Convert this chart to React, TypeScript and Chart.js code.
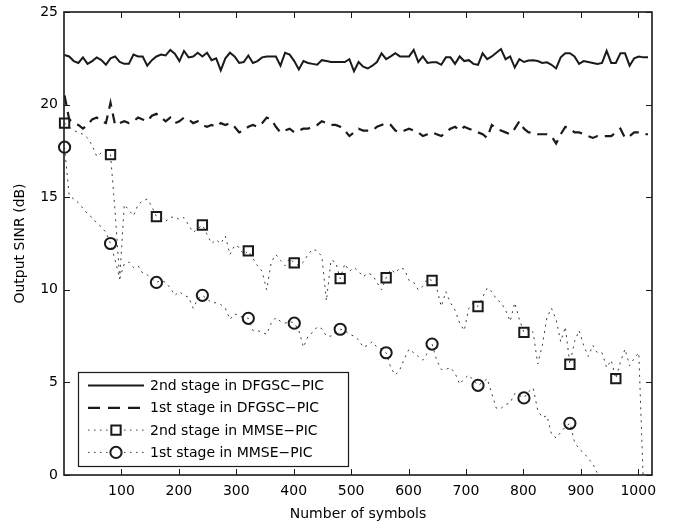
import React, { useEffect, useRef } from 'react';
import { Chart, registerables } from 'chart.js';

Chart.register(...registerables);

const symbols = [1,9,17,25,33,41,49,57,65,73,81,89,97,105,113,121,129,137,145,153,161,169,177,185,193,201,209,217,225,233,241,249,257,265,273,281,289,297,305,313,321,329,337,345,353,361,369,377,385,393,401,409,417,425,433,441,449,457,465,473,481,489,497,505,513,521,529,537,545,553,561,569,577,585,593,601,609,617,625,633,641,649,657,665,673,681,689,697,705,713,721,729,737,745,753,761,769,777,785,793,801,809,817,825,833,841,849,857,865,873,881,889,897,905,913,921,929,937,945,953,961,969,977,985,993,1001,1009,1017];

const dfgsc2nd = [
  22.68, 22.6, 22.35, 22.25, 22.55, 22.2, 22.35, 22.55, 22.4, 22.15,
  22.5, 22.6, 22.3, 22.2, 22.2, 22.7, 22.6, 22.6, 22.1, 22.4,
  22.6, 22.7, 22.65, 22.95, 22.75, 22.35, 22.9, 22.55, 22.6, 22.8,
  22.6, 22.8, 22.4, 22.5, 21.85, 22.5, 22.8, 22.6, 22.25, 22.3,
  22.65, 22.25, 22.35, 22.55, 22.6, 22.6, 22.6, 22.1, 22.8, 22.7,
  22.35, 21.9, 22.35, 22.25, 22.2, 22.15, 22.4, 22.35, 22.3, 22.3,
  22.3, 22.3, 22.45, 21.8, 22.3, 22.05, 21.95, 22.1, 22.3, 22.77,
  22.45, 22.6, 22.77, 22.6, 22.6, 22.6, 22.95, 22.3, 22.6, 22.25,
  22.28, 22.28, 22.15, 22.55, 22.55, 22.2, 22.6, 22.35, 22.4, 22.2,
  22.15, 22.77, 22.45, 22.6, 22.8, 23.0, 22.45, 22.6, 22.0, 22.45,
  22.3, 22.38, 22.4, 22.35, 22.25, 22.28, 22.15, 21.95, 22.55, 22.77,
  22.77, 22.6, 22.2, 22.35, 22.3, 22.25, 22.2, 22.25, 22.9, 22.25,
  22.25, 22.77, 22.77, 22.1, 22.5, 22.6, 22.55, 22.55
];

const dfgsc1st = [
  20.5, 19.2, 19.0, 18.9, 18.7, 18.9, 19.2, 19.3, 19.1, 19.0,
  20.1, 18.9, 19.0, 19.1, 19.0, 19.1, 19.3, 19.2, 19.1, 19.4,
  19.5, 19.3, 19.1, 19.3, 19.0, 19.1, 19.3, 19.2, 19.0, 19.1,
  18.9, 18.8, 18.9, 18.8, 19.0, 18.9, 19.0, 18.8, 18.5, 18.6,
  18.8, 18.9, 18.8, 19.0, 19.3, 19.2, 18.8, 18.5, 18.6, 18.7,
  18.5, 18.6, 18.7, 18.7, 18.8, 18.9, 19.1, 19.0, 18.9, 18.9,
  18.8, 18.6, 18.3, 18.5, 18.7, 18.6, 18.6, 18.6, 18.8, 18.9,
  19.0, 18.9, 18.6, 18.5, 18.6, 18.7, 18.6, 18.5, 18.3, 18.4,
  18.5, 18.4, 18.3, 18.5, 18.7, 18.8, 18.6, 18.8, 18.7, 18.6,
  18.5, 18.4, 18.2, 18.9, 18.7, 18.6, 18.5, 18.4, 18.7, 19.1,
  18.7, 18.5, 18.5, 18.4, 18.4, 18.4, 18.3, 17.9, 18.4, 18.8,
  18.7, 18.5, 18.5, 18.4, 18.3, 18.2, 18.3, 18.3, 18.3, 18.3,
  18.5, 18.7, 18.2, 18.3, 18.5, 18.5, 18.4, 18.4
];

const mmse2nd = [
  19.0, 18.8, 18.6, 18.5, 18.4, 18.2, 17.8, 17.2, 17.4, 17.5,
  17.3, 14.2, 10.6, 14.6, 14.3, 14.0, 14.6, 14.8, 14.9, 14.5,
  13.95, 13.8, 13.7, 13.9, 13.95, 13.8, 13.9, 13.5, 13.1, 13.3,
  13.5, 13.0, 12.5, 12.7, 12.5, 12.9, 11.9, 12.4, 12.3, 11.9,
  12.1, 11.7, 11.3, 11.0, 10.0, 11.5, 11.9, 11.6, 11.3, 11.7,
  11.45, 11.3, 11.5, 11.9, 12.2, 12.1, 11.8, 9.4, 11.6, 11.5,
  10.6, 11.4, 11.0, 11.2, 11.0, 10.7, 10.9, 10.8, 10.4, 10.0,
  10.65, 11.1, 10.9, 11.2, 11.1, 10.5, 10.4, 10.0, 10.2, 10.6,
  10.5, 10.1, 9.1, 9.9, 9.3, 8.9, 8.2, 7.8, 9.0, 9.3,
  9.1, 9.6, 10.1, 9.9, 9.5, 9.3, 8.9, 8.3, 9.3, 8.4,
  7.7, 7.9, 7.7, 6.0, 7.0, 8.5, 9.0, 8.4, 7.2, 8.0,
  5.98, 7.2, 7.8, 7.0, 6.4, 7.0, 6.6, 6.6, 5.8, 6.2,
  5.2, 6.1, 6.8, 5.9, 6.3, 6.6, -0.5, null
];

const mmse1st = [
  17.7, 15.1, 14.9, 14.7, 14.4, 14.1, 13.9, 13.6, 13.4, 13.1,
  12.5, 11.6, 10.6, 11.4, 11.5, 11.2, 11.3, 10.9, 10.8, 10.6,
  10.4, 10.5, 10.4, 10.1, 9.7, 9.9, 9.7, 9.6, 9.0, 9.5,
  9.7, 9.5, 9.3, 9.3, 9.2, 9.0, 8.4, 8.7, 8.6, 8.5,
  8.46, 7.8, 7.8, 7.7, 7.6, 8.2, 8.5, 8.3, 8.2, 8.3,
  8.2, 7.8, 6.9, 7.5, 7.7, 8.0, 7.9, 7.5, 7.5, 7.7,
  7.87, 7.8, 7.6, 7.5, 7.3, 6.9, 7.0, 7.2, 6.9, 6.8,
  6.6, 5.8, 5.4, 5.7, 6.3, 6.8, 6.6, 6.4, 6.2, 6.6,
  7.07, 6.2, 5.7, 5.7, 5.8, 5.5, 4.9, 5.2, 5.4, 5.1,
  4.84, 5.0, 5.2, 4.4, 3.6, 3.6, 3.8, 3.9, 4.4, 4.3,
  4.16, 4.5, 4.7, 3.5, 3.1, 3.2, 2.2, 2.0, 2.3, 2.6,
  2.79, 1.8, 1.4, 1.2, 0.9, 0.6, 0.1, -0.6, -1.2, null,
  null, null, null, null, null, null, null, null
];

const seriesLabels = [
  '2nd stage in DFGSC\u2212PIC',
  '1st stage in DFGSC\u2212PIC',
  '2nd stage in MMSE\u2212PIC',
  '1st stage in MMSE\u2212PIC',
];

const xTickValues = [100, 200, 300, 400, 500, 600, 700, 800, 900, 1000];
const yTickValues = [0, 5, 10, 15, 20, 25];

const FONT = '"DejaVu Sans", sans-serif';
const INK = '#1a1a1a';

const toPoints = (vals: (number | null)[]) => symbols.map((x, i) => ({ x, y: vals[i] }));

const markerRadius = (r: number) => (ctx: any) => (ctx.dataIndex % 10 === 0 ? r : 0);

const frameAndTicks = {
  id: 'frameAndTicks',
  beforeDatasetsDraw(chart: any) {
    const { ctx, chartArea: a, scales } = chart;
    ctx.save();
    ctx.strokeStyle = INK;
    ctx.lineWidth = 1;
    ctx.beginPath();
    xTickValues.forEach((v) => {
      const px = Math.round(scales.x.getPixelForValue(v)) + 0.5;
      ctx.moveTo(px, a.bottom);
      ctx.lineTo(px, a.bottom - 6);
      ctx.moveTo(px, a.top);
      ctx.lineTo(px, a.top + 6);
    });
    yTickValues.forEach((v) => {
      const py = Math.round(scales.y.getPixelForValue(v)) + 0.5;
      ctx.moveTo(a.left, py);
      ctx.lineTo(a.left + 6, py);
      ctx.moveTo(a.right, py);
      ctx.lineTo(a.right - 6, py);
    });
    ctx.stroke();
    ctx.lineWidth = 1.6;
    ctx.strokeRect(a.left, a.top, a.right - a.left, a.bottom - a.top);
    ctx.restore();
  },
};

const drawMarker = (ctx: CanvasRenderingContext2D, style: string, x: number, y: number, r: number) => {
  ctx.beginPath();
  if (style === 'rect') {
    const s = r * Math.SQRT1_2;
    ctx.rect(x - s, y - s, 2 * s, 2 * s);
  } else {
    ctx.arc(x, y, r, 0, Math.PI * 2);
  }
  ctx.stroke();
};

const boxLegend = {
  id: 'boxLegend',
  afterDatasetsDraw(chart: any) {
    const { ctx, chartArea: a } = chart;
    const w = 270;
    const h = 94;
    const x0 = a.left + 14;
    const y0 = a.bottom - 9 - h;
    ctx.save();
    ctx.fillStyle = '#fff';
    ctx.fillRect(x0, y0, w, h);
    ctx.strokeStyle = INK;
    ctx.lineWidth = 1.2;
    ctx.setLineDash([]);
    ctx.strokeRect(x0 + 0.5, y0 + 0.5, w, h);
    chart.data.datasets.forEach((ds: any, i: number) => {
      const cy = y0 + 13.5 + i * 22.3;
      ctx.save();
      ctx.strokeStyle = ds.borderColor;
      ctx.lineWidth = ds.borderWidth;
      ctx.setLineDash(ds.legendDash || []);
      ctx.beginPath();
      ctx.moveTo(x0 + 10, cy);
      ctx.lineTo(x0 + 66, cy);
      ctx.stroke();
      if (ds.legendMarker) {
        ctx.setLineDash([]);
        ctx.lineWidth = 2;
        ctx.strokeStyle = INK;
        ctx.fillStyle = '#fff';
        const mx = x0 + 38;
        ctx.fillRect(mx - 6, cy - 6, 12, 12);
        drawMarker(ctx, ds.pointStyle, mx, cy, ds.legendMarker);
      }
      ctx.restore();
      ctx.fillStyle = '#000';
      ctx.font = `14px ${FONT}`;
      ctx.textBaseline = 'middle';
      ctx.textAlign = 'left';
      ctx.fillText(ds.label, x0 + 72, cy + 1);
    });
    ctx.restore();
  },
};

export default function App() {
  const canvasRef = useRef<HTMLCanvasElement | null>(null);

  useEffect(() => {
    document.body.style.margin = '0';
    const canvas = canvasRef.current;
    if (!canvas) return;
    const tickFont = { family: FONT, size: 14 };
    const chart = new Chart(canvas, {
      type: 'line',
      data: {
        datasets: [
          {
            label: seriesLabels[0],
            data: toPoints(dfgsc2nd),
            borderColor: INK,
            borderWidth: 2,
            pointRadius: 0,
            tension: 0,
          } as any,
          {
            label: seriesLabels[1],
            data: toPoints(dfgsc1st),
            borderColor: INK,
            borderWidth: 2.2,
            borderDash: [10, 7],
            legendDash: [12, 8],
            pointRadius: 0,
            tension: 0,
          } as any,
          {
            label: seriesLabels[2],
            data: toPoints(mmse2nd),
            borderColor: '#3a3a3a',
            borderWidth: 1,
            borderDash: [2, 4.5],
            legendDash: [1.5, 4.5],
            pointStyle: 'rect',
            pointRadius: markerRadius(6.6),
            pointBorderWidth: 2,
            pointBorderColor: INK,
            pointBackgroundColor: 'rgba(255,255,255,0)',
            legendMarker: 6.6,
            tension: 0,
            clip: { left: 10, top: 0, right: 0, bottom: 0 },
          } as any,
          {
            label: seriesLabels[3],
            data: toPoints(mmse1st),
            borderColor: '#3a3a3a',
            borderWidth: 1,
            borderDash: [2, 4.5],
            legendDash: [1.5, 4.5],
            pointStyle: 'circle',
            pointRadius: markerRadius(5.6),
            pointBorderWidth: 2,
            pointBorderColor: INK,
            pointBackgroundColor: 'rgba(255,255,255,0)',
            legendMarker: 5.6,
            tension: 0,
            clip: { left: 10, top: 0, right: 0, bottom: 0 },
          } as any,
        ],
      },
      options: {
        responsive: false,
        animation: false,
        spanGaps: false,
        layout: { padding: { top: 12, right: 26, left: 0, bottom: 0 } },
        plugins: {
          legend: { display: false },
          tooltip: { enabled: false },
        },
        scales: {
          x: {
            type: 'linear',
            min: 0,
            max: 1024,
            grid: { display: false, drawTicks: false },
            border: { display: false },
            afterBuildTicks: (s: any) => {
              s.ticks = xTickValues.map((v) => ({ value: v }));
            },
            afterFit: (s: any) => {
              s.height = 50;
              s.paddingLeft = 0;
              s.paddingRight = 0;
            },
            ticks: {
              color: '#000',
              font: tickFont,
              padding: 8,
              maxRotation: 0,
              autoSkip: false,
              callback: (v: any) => String(v),
            },
            title: {
              display: true,
              text: 'Number of symbols',
              color: '#000',
              font: tickFont,
              padding: { top: 0, bottom: 2 },
            },
          },
          y: {
            min: 0,
            max: 25,
            grid: { display: false, drawTicks: false },
            border: { display: false },
            afterBuildTicks: (s: any) => {
              s.ticks = yTickValues.map((v) => ({ value: v }));
            },
            afterFit: (s: any) => {
              s.width = 64;
              s.paddingTop = 0;
              s.paddingBottom = 0;
            },
            ticks: { color: '#000', font: tickFont, padding: 6, callback: (v: any) => String(v) },
            title: {
              display: true,
              text: 'Output SINR (dB)',
              color: '#000',
              font: tickFont,
              padding: { top: 12, bottom: 0 },
            },
          },
        },
      } as any,
      plugins: [frameAndTicks, boxLegend],
    });
    return () => chart.destroy();
  }, []);

  return (
    <div style={{ width: 678, height: 525 }}>
      <canvas ref={canvasRef} width={678} height={525} style={{ display: 'block' }} />
    </div>
  );
}
